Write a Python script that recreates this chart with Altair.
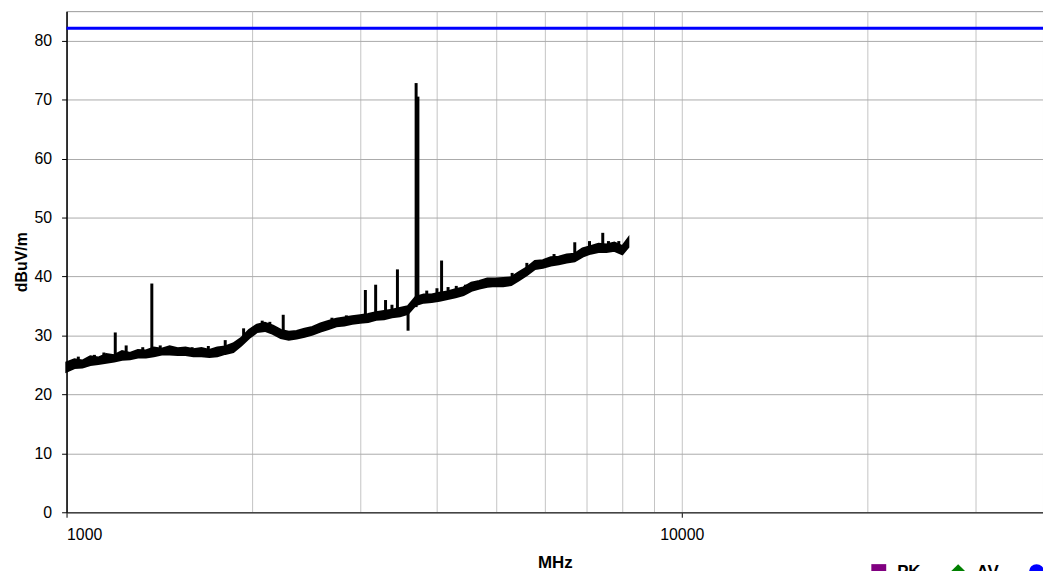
import altair as alt
import pandas as pd

# measured trace band (MHz, dBuV/m): lower and upper edge of the noisy trace
freq = [1000, 1030, 1061, 1093, 1126, 1160, 1195, 1231, 1268, 1306,
        1346, 1386, 1428, 1471, 1516, 1561, 1608, 1657, 1707, 1758,
        1811, 1866, 1922, 1980, 2040, 2101, 2165, 2230, 2297, 2366,
        2437, 2511, 2587, 2665, 2745, 2828, 2913, 3001, 3092, 3185,
        3281, 3380, 3482, 3587, 3695, 3807, 3922, 4040, 4162, 4288,
        4417, 4550, 4688, 4829, 4975, 5125, 5280, 5439, 5603, 5772,
        5946, 6126, 6310, 6501, 6697, 6899, 7107, 7321, 7542, 7770,
        8004, 8180]
lo = [23.9, 24.5, 24.6, 25.0, 25.2, 25.4, 25.6, 25.9, 26.0, 26.3,
      26.3, 26.5, 26.8, 26.8, 26.7, 26.7, 26.5, 26.5, 26.4, 26.5,
      26.9, 27.2, 28.3, 29.6, 30.6, 30.8, 30.3, 29.6, 29.3, 29.5,
      29.8, 30.2, 30.7, 31.1, 31.6, 31.7, 32.0, 32.2, 32.3, 32.7,
      32.8, 33.1, 33.3, 33.7, 35.2, 35.6, 35.7, 35.9, 36.2, 36.5,
      36.9, 37.6, 38.0, 38.3, 38.4, 38.4, 38.6, 39.4, 40.3, 41.3,
      41.5, 41.9, 42.1, 42.4, 42.6, 43.4, 43.9, 44.2, 44.2, 44.4,
      43.8, 45.0]
hi = [25.4, 25.9, 25.7, 26.4, 26.2, 26.8, 26.6, 27.3, 27.0, 27.5,
      27.4, 27.9, 27.7, 28.1, 27.8, 27.9, 27.6, 27.8, 27.5, 27.9,
      28.1, 28.6, 29.5, 30.9, 31.8, 32.1, 31.6, 30.9, 30.6, 30.7,
      31.1, 31.4, 32.0, 32.4, 32.8, 33.0, 33.2, 33.4, 33.6, 33.9,
      34.1, 34.3, 34.6, 34.9, 36.5, 36.9, 36.9, 37.2, 37.4, 37.8,
      38.1, 38.9, 39.2, 39.6, 39.6, 39.7, 39.8, 40.7, 41.5, 42.6,
      42.7, 43.2, 43.3, 43.7, 43.8, 44.7, 45.1, 45.5, 45.4, 45.7,
      45.1, 46.4]

# narrow spikes and small teeth (MHz, base, tip)
spike_freq = [1200, 1376, 1940, 2250, 3060, 3180, 3300, 3450, 3590, 3700, 3725, 4000, 4070, 7080, 7440,
              1045, 1110, 1150, 1250, 1330, 1420, 1480, 1600, 1700, 1811, 2080, 2140, 2700, 2850,
              3380, 3850, 4170, 4300, 4450, 5300, 5600, 6200, 6700, 7600, 7900]
spike_base = [26.4, 27.1, 29.5, 30.3, 32.8, 33.1, 33.5, 33.8, 34.2, 34.8, 35.5, 36.5, 36.6, 44.5, 44.8,
              25.2, 25.6, 25.9, 26.5, 27.0, 27.2, 27.3, 27.1, 27.0, 27.4, 31.2, 31.2, 32.1, 32.4,
              33.7, 36.2, 36.8, 37.1, 37.5, 39.2, 41.0, 42.6, 43.2, 45.0, 44.6]
spike_peak = [30.5, 38.8, 31.2, 33.5, 37.7, 38.6, 36.0, 41.2, 30.8, 72.8, 70.5, 38.0, 42.7, 46.0, 47.4,
              26.4, 26.7, 27.1, 28.3, 28.0, 28.3, 28.2, 28.0, 28.2, 29.2, 32.5, 32.3, 33.0, 33.4,
              35.2, 37.6, 38.2, 38.4, 38.6, 40.6, 42.3, 43.8, 45.8, 46.0, 46.0]

# limit line
limit_freq = [1000, 38650]
limit_val = [82.1, 82.1]

# legend entries
legend_names = ["PK", "AV", "QP"]
legend_colors = ["#800080", "#008000", "#0000FF"]
legend_shapes = ["square", "diamond", "circle"]

x_ticks = [1000, 2000, 3000, 4000, 5000, 6000, 7000, 8000, 9000,
           10000, 20000, 30000]
y_ticks = [0, 10, 20, 30, 40, 50, 60, 70, 80]

trace = pd.DataFrame({"f": freq, "lo": lo, "hi": hi})
spikes = pd.DataFrame({"f": spike_freq, "b": spike_base, "p": spike_peak})
limit = pd.DataFrame({"f": limit_freq, "v": limit_val})
leg = pd.DataFrame({"s": legend_names})

FONT = "Liberation Sans"

xscale = alt.Scale(type="log", domain=[1000, 38650], nice=False)
yscale = alt.Scale(domain=[0, 85], nice=False)

xaxis = alt.Axis(
    values=x_ticks,
    labelExpr="datum.value == 1000 || datum.value == 10000 ? format(datum.value, 'd') : ''",
    labelOverlap=False,
    tickOpacity={"condition": {"test": "datum.value == 1000 || datum.value == 10000", "value": 1}, "value": 0},
    title="MHz",
    grid=True,
)
yaxis = alt.Axis(values=y_ticks, title="dBuV/m", grid=True)

band = alt.Chart(trace).mark_area(color="black", stroke="black", strokeWidth=2.5, opacity=1).encode(
    x=alt.X("f:Q", scale=xscale, axis=xaxis),
    y=alt.Y("lo:Q", scale=yscale, axis=yaxis),
    y2="hi:Q",
)

sp = alt.Chart(spikes).mark_rule(color="black", strokeWidth=3).encode(
    x="f:Q", y="b:Q", y2="p:Q"
)

lim = alt.Chart(limit).mark_line(color="#0000FF", strokeWidth=3).encode(
    x="f:Q", y="v:Q"
)

legpts = alt.Chart(leg).mark_point(filled=True, opacity=0).encode(
    color=alt.Color("s:N", scale=alt.Scale(domain=legend_names, range=legend_colors),
                    legend=alt.Legend(title=None, orient="none", legendX=810, legendY=556,
                                      direction="horizontal", symbolOpacity=1, symbolSize=225,
                                      symbolStrokeWidth=0,
                                      labelFont=FONT, labelFontSize=17, labelFontWeight="bold",
                                      labelColor="black", columnPadding=29, labelOffset=10,
                                      padding=0)),
    shape=alt.Shape("s:N", scale=alt.Scale(domain=legend_names, range=legend_shapes), legend=None),
)

chart = alt.layer(lim, band, sp, legpts).properties(
    width=984, height=505,
    autosize=alt.AutoSizeParams(type="none"),
    padding={"left": 59, "top": 1, "right": 0, "bottom": 57},
).configure_view(
    stroke="#999999", strokeWidth=1
).configure_axis(
    labelFont=FONT, labelFontSize=16, labelColor="black",
    titleFont=FONT, titleFontWeight="bold", titleColor="black",
    gridWidth=1, tickColor="black", tickSize=5,
).configure_axisY(
    domainColor="black", domainWidth=1.5, labelPadding=10, titlePadding=5, titleFontSize=16,
    gridColor="#aaaaaa",
).configure_axisX(
    domainColor="#444444", domainWidth=1.5, labelPadding=9, titlePadding=13, titleFontSize=17,
    gridColor="#c4c4c4",
)

chart.save("out.html", embed_options={"renderer": "svg", "actions": False})
